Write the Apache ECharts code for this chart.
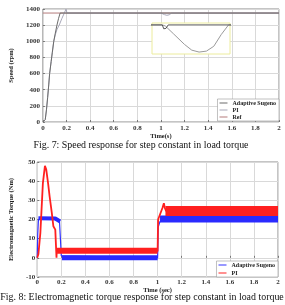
<!DOCTYPE html>
<html>
<head>
<meta charset="utf-8">
<script src="https://cdn.jsdelivr.net/npm/echarts@6/dist/echarts.min.js"></script>
<style>
  html, body { margin: 0; padding: 0; background: #fff; }
  #main { width: 285px; height: 305px; }
</style>
</head>
<body>
<div id="main"></div>
<script>
// Fig. 7 - speed (rpm) vs time (s)
var sugenoSpeed = [[0,0],[0.012,0],[0.02,30],[0.03,150],[0.04,300],[0.05,470],[0.057,600],[0.07,750],[0.08,865],[0.092,1000],[0.105,1100],[0.119,1200],[0.133,1285],[0.146,1350],[1.0,1350],[1.002,1346],[1.005,1346.5],[1.008,1350],[2,1350]];
var piSpeed = [[0,0],[0.012,0],[0.02,30],[0.03,150],[0.04,300],[0.05,470],[0.057,600],[0.07,750],[0.08,865],[0.092,1000],[0.105,1080],[0.12,1150],[0.138,1200],[0.16,1280],[0.18,1345],[0.196,1400],[0.2,1420],[0.204,1350],[1.0,1350],[1.004,1349],[1.015,1341],[1.03,1330],[1.04,1324],[1.05,1322],[1.06,1323],[1.07,1328],[1.08,1340],[1.09,1350],[2,1350]];
var refSpeed = [[0,1350],[2,1350]];

// Fig. 8 - electromagnetic torque (Nm) vs time (sec)
var sugenoTorque = [[0,0],[0.004,12],[0.01,20],[0.03,20.5],[0.07,20.8],[0.12,20.4],[0.16,19.8],[0.185,19],[0.194,18],[0.2,1],[0.21,0],[1.0,0],[1.005,16],[1.02,19],[1.04,20],[2,20]];
var sugenoBandStart = [[0.01,20.6],[0.15,20.5],[0.19,19]];
var sugenoBandLow = [[0.205,0.1],[1.0,0.1]];
var sugenoBandLoad = [[1.02,20.2],[2,20.2]];
var piTorque = [[0,0],[0.01,2],[0.026,13],[0.047,39],[0.064,48],[0.075,46],[0.09,39],[0.103,32],[0.12,24],[0.134,16.5],[0.15,14.7],[0.155,15.5],[0.158,14],[0.16,0],[0.163,5],[0.17,3.5],[1.0,3.5],[1.004,20],[1.02,21],[1.04,26],[1.052,28.5],[1.06,26],[1.07,24.5],[2,24.5]];
var piBandLow = [[0.165,3.7],[1.0,3.7]];
var piBandLoad = [[1.065,24.4],[2,24.4]];

var serif = 'Liberation Serif';
var tickFont = { fontFamily: serif, fontSize: 7, fontWeight: 'bold', color: '#333', formatter: function (v) { return String(v); } };
var nameFont = { fontFamily: serif, fontSize: 6.5, fontWeight: 'bold', color: '#222' };
var legendFont = { fontFamily: serif, fontSize: 6, fontWeight: 'bold', color: '#222', lineHeight: 6 };
var gridLine = { show: true, lineStyle: { color: '#d9d9d9', width: 1 } };
var tick = { inside: true, length: 2, lineStyle: { color: '#777' } };

var chart = echarts.init(document.getElementById('main'));

var option = {
  animation: false,
  backgroundColor: '#fff',
  grid: [
    { left: 32, top: 9, width: 247, height: 113, show: true, borderColor: '#8a8a8a', borderWidth: 1 },
    { left: 20, top: 162, width: 258, height: 115, show: true, borderColor: '#8a8a8a', borderWidth: 1 },
    // zoomed view of the load step
    { left: 152, top: 23, width: 78, height: 31, show: true, z: 10, backgroundColor: '#fff', borderColor: '#ecec9c', borderWidth: 1 }
  ],
  xAxis: [
    { gridIndex: 0, type: 'value', min: 0, max: 2, interval: 0.2, name: 'Time(s)', nameLocation: 'middle', nameGap: 11, nameTextStyle: nameFont,
      axisLine: { show: false }, axisTick: tick, axisLabel: Object.assign({ margin: 3 }, tickFont), splitLine: gridLine },
    { gridIndex: 1, type: 'value', min: 0, max: 2, interval: 0.2, name: 'Time (sec)', nameLocation: 'middle', nameGap: 10, nameTextStyle: nameFont,
      axisLine: { show: false }, axisTick: tick, axisLabel: Object.assign({ margin: 2 }, tickFont), splitLine: gridLine },
    { gridIndex: 2, type: 'value', min: 0.986, max: 1.092, show: false, z: 10 }
  ],
  yAxis: [
    { gridIndex: 0, type: 'value', min: 0, max: 1400, interval: 200, name: 'Speed (rpm)', nameLocation: 'middle', nameGap: 24, nameTextStyle: nameFont,
      axisLine: { show: false }, axisTick: tick, axisLabel: Object.assign({ margin: 3 }, tickFont), splitLine: gridLine },
    { gridIndex: 1, type: 'value', min: -10, max: 50, interval: 10, name: 'Electromagnetic Torque (Nm)', nameLocation: 'middle', nameGap: 15, nameTextStyle: nameFont,
      axisLine: { show: false }, axisTick: tick, axisLabel: Object.assign({ margin: 2 }, tickFont), splitLine: gridLine },
    { gridIndex: 2, type: 'value', min: 1320, max: 1352, show: false, z: 10 }
  ],
  legend: [
    { orient: 'vertical', right: 6, top: 99, itemWidth: 8, itemHeight: 1, itemGap: 1, icon: 'rect',
      padding: [1, 3, 1, 2], backgroundColor: '#fff', borderColor: '#999', borderWidth: 0.6, textStyle: legendFont,
      data: [
        { name: 'Adaptive Sugeno', itemStyle: { color: '#6b6b6b' } },
        { name: 'PI', itemStyle: { color: '#a8a8b8' } },
        { name: 'Ref', itemStyle: { color: '#b57a7a' } }
      ] },
    { orient: 'vertical', right: 7, top: 261, itemWidth: 8, itemHeight: 1, itemGap: 2, icon: 'rect',
      padding: [1, 3, 1, 2], backgroundColor: '#fff', borderColor: '#999', borderWidth: 0.6, textStyle: legendFont,
      data: [
        { name: 'Adaptive Sugeno', itemStyle: { color: '#3030ff' } },
        { name: 'PI', itemStyle: { color: '#ff2020' } }
      ] }
  ],
  graphic: [
    { type: 'text', x: 141, y: 145, scaleX: 0.9, style: { text: 'Fig. 7: Speed response for step constant in load torque', font: '11px "Liberation Serif"', fill: '#111', align: 'center', verticalAlign: 'middle' } },
    { type: 'text', x: 142, y: 297, scaleX: 0.9, style: { text: 'Fig. 8: Electromagnetic torque response for step constant in load torque', font: '11px "Liberation Serif"', fill: '#111', align: 'center', verticalAlign: 'middle' } }
  ],
  series: [
    { name: 'Ref', type: 'line', xAxisIndex: 0, yAxisIndex: 0, data: refSpeed, showSymbol: false, lineStyle: { color: '#b57a7a', width: 1 } },
    { name: 'PI', type: 'line', xAxisIndex: 0, yAxisIndex: 0, data: piSpeed, showSymbol: false, lineStyle: { color: '#a8a8b8', width: 1 } },
    { name: 'Adaptive Sugeno', type: 'line', xAxisIndex: 0, yAxisIndex: 0, data: sugenoSpeed, showSymbol: false, lineStyle: { color: '#6b6b6b', width: 1 } },

    { name: 'PI', type: 'line', xAxisIndex: 2, yAxisIndex: 2, data: piSpeed, showSymbol: false, z: 11, lineStyle: { color: '#9a9a9a', width: 1 } },
    { name: 'Adaptive Sugeno', type: 'line', xAxisIndex: 2, yAxisIndex: 2, data: sugenoSpeed, showSymbol: false, z: 12, lineStyle: { color: '#555', width: 1 } },

    { name: 'Adaptive Sugeno', type: 'line', xAxisIndex: 1, yAxisIndex: 1, data: sugenoTorque, showSymbol: false, lineStyle: { color: '#3030ff', width: 1.2 } },
    { name: 'Adaptive Sugeno', type: 'line', xAxisIndex: 1, yAxisIndex: 1, data: sugenoBandStart, showSymbol: false, lineStyle: { color: '#2a2aff', width: 4, cap: 'butt' } },
    { name: 'Adaptive Sugeno', type: 'line', xAxisIndex: 1, yAxisIndex: 1, data: sugenoBandLow, showSymbol: false, lineStyle: { color: '#2a2aff', width: 5, cap: 'butt' } },
    { name: 'Adaptive Sugeno', type: 'line', xAxisIndex: 1, yAxisIndex: 1, data: sugenoBandLoad, showSymbol: false, lineStyle: { color: '#2a2aff', width: 7, cap: 'butt' } },
    { name: 'PI', type: 'line', xAxisIndex: 1, yAxisIndex: 1, data: piTorque, showSymbol: false, z: 3, lineStyle: { color: '#ff2020', width: 1.8 } },
    { name: 'PI', type: 'line', xAxisIndex: 1, yAxisIndex: 1, data: piBandLow, showSymbol: false, z: 3, lineStyle: { color: '#ff2020', width: 6, cap: 'butt' } },
    { name: 'PI', type: 'line', xAxisIndex: 1, yAxisIndex: 1, data: piBandLoad, showSymbol: false, z: 3, lineStyle: { color: '#ff2020', width: 10, cap: 'butt' } }
  ]
};

chart.setOption(option);
</script>
</body>
</html>
